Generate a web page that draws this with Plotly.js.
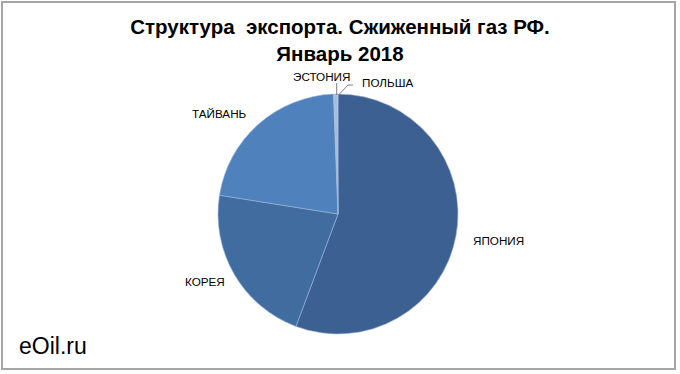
<!DOCTYPE html>
<html>
<head>
<meta charset="utf-8">
<script src="https://cdn.plot.ly/plotly-3.0.1.min.js"></script>
<style>html,body{margin:0;padding:0;background:#fff;}#chart{width:680px;height:374px;}</style>
</head>
<body>
<div id="chart"></div>
<script>
var labels = ['ЯПОНИЯ', 'КОРЕЯ', 'ТАЙВАНЬ', 'ЭСТОНИЯ', 'ПОЛЬША'];
var shares = [55.7, 21.8, 21.9, 0.45, 0.15];
var colors = ['#3c6092', '#406ca0', '#4f81bd', '#a8c0df', '#c9d6ea'];

var W = 680, H = 374;
function px(x) { return x / W; }
function py(y) { return 1 - y / H; }

var cx = 338, cy = 214, r = 120;

var trace = {
  type: 'pie',
  labels: labels,
  values: shares,
  sort: false,
  direction: 'clockwise',
  rotation: 0,
  marker: { colors: colors, line: { color: '#9db7db', width: 0.6 } },
  textinfo: 'none',
  hoverinfo: 'label+percent',
  showlegend: false,
  domain: { x: [px(cx - r), px(cx + r)], y: [py(cy + r), py(cy - r)] }
};

var labelPos = [
  { x: 471, y: 240, anchor: 'left' },
  { x: 227, y: 281, anchor: 'right' },
  { x: 249, y: 113, anchor: 'right' },
  { x: 352, y: 76, anchor: 'right' },
  { x: 360, y: 82, anchor: 'left' }
];

var annotations = labels.map(function (lab, i) {
  return {
    text: lab, xref: 'paper', yref: 'paper',
    x: px(labelPos[i].x), y: py(labelPos[i].y),
    xanchor: labelPos[i].anchor, yanchor: 'middle',
    showarrow: false,
    font: { family: 'Liberation Sans, Arial, sans-serif', size: 11.7, color: '#000' }
  };
});
annotations.push({
  text: 'eOil.ru', xref: 'paper', yref: 'paper',
  x: px(17), y: py(346), xanchor: 'left', yanchor: 'middle', showarrow: false,
  font: { family: 'Liberation Sans, Arial, sans-serif', size: 23, color: '#000' }
});

var shapes = [
  { type: 'rect', xref: 'paper', yref: 'paper', x0: px(2), y0: py(2), x1: px(675), y1: py(369),
    line: { color: '#a6a6a6', width: 2 }, fillcolor: 'rgba(0,0,0,0)' },
  { type: 'line', xref: 'paper', yref: 'paper', x0: px(336.7), y0: py(95), x1: px(336.7), y1: py(83),
    line: { color: '#7f7f7f', width: 1 } },
  { type: 'path', xref: 'paper', yref: 'paper',
    path: 'M ' + px(338.5) + ',' + py(95) + ' L ' + px(348) + ',' + py(85) + ' L ' + px(353) + ',' + py(85),
    line: { color: '#7f7f7f', width: 1 } }
];

var layout = {
  width: W, height: H,
  margin: { l: 0, r: 0, t: 0, b: 0 },
  paper_bgcolor: '#fff',
  title: {
    text: '<b>Структура  экспорта. Сжиженный газ РФ.<br>Январь 2018</b>',
    font: { family: 'Liberation Sans, Arial, sans-serif', size: 20.5, color: '#000' },
    x: 0.5, xanchor: 'center', y: py(34), yanchor: 'middle'
  },
  annotations: annotations,
  shapes: shapes
};

Plotly.newPlot('chart', [trace], layout, { displayModeBar: false, staticPlot: true });
</script>
</body>
</html>
